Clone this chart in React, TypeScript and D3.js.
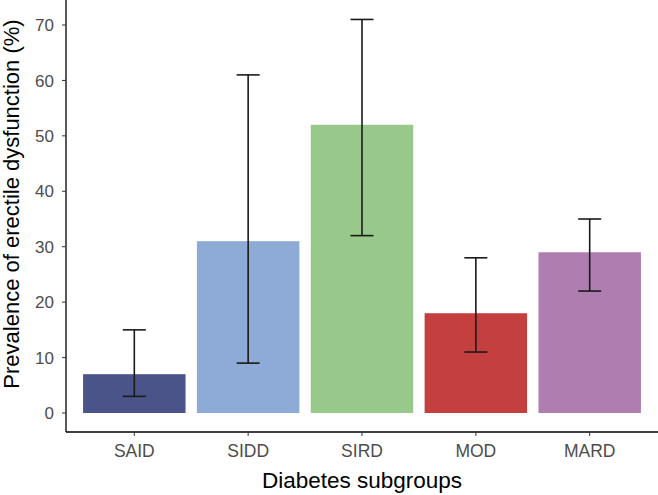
import React from "react";
import * as d3 from "d3";

const categories = ["SAID", "SIDD", "SIRD", "MOD", "MARD"];
const values = [7, 31, 52, 18, 29];
const lower = [3, 9, 32, 11, 22];
const upper = [15, 61, 71, 28, 35];
const colors = ["#4a5488", "#8eaad6", "#98c98a", "#c4403f", "#b07db0"];
const yTicks = [0, 10, 20, 30, 40, 50, 60, 70];

export default function App() {
  const W = 658, H = 495;
  const left = 66, right = 658, bottom = 432;
  const x = d3.scalePoint<string>().domain(categories).range([left, right]).padding(0.6);
  const y = d3.scaleLinear().domain([0, 70]).range([413, 25]);
  const bw = x.step() * 0.9;
  const font = "Liberation Sans, Arial, sans-serif";
  return (
    <svg width={W} height={H} style={{ position: "absolute", left: 0, top: 0 }} fontFamily={font}>
      {categories.map((c, i) => (
        <rect key={c} x={x(c)! - bw / 2} y={y(values[i])} width={bw} height={y(0) - y(values[i])} fill={colors[i]} />
      ))}
      {categories.map((c, i) => {
        const cx = x(c)!;
        return (
          <g key={c + "e"} stroke="#1a1a1a" strokeWidth={1.6}>
            <line x1={cx} x2={cx} y1={y(lower[i])} y2={y(upper[i])} />
            <line x1={cx - 11.5} x2={cx + 11.5} y1={y(lower[i])} y2={y(lower[i])} />
            <line x1={cx - 11.5} x2={cx + 11.5} y1={y(upper[i])} y2={y(upper[i])} />
          </g>
        );
      })}
      <line x1={left} x2={left} y1={0} y2={bottom} stroke="#000" strokeWidth={1.3} />
      <line x1={left} x2={right} y1={bottom} y2={bottom} stroke="#000" strokeWidth={1.3} />
      {yTicks.map((t) => (
        <g key={t}>
          <line x1={left - 4} x2={left} y1={y(t)} y2={y(t)} stroke="#333" strokeWidth={1} />
          <text x={54} y={y(t)} dy="0.36em" textAnchor="end" fontSize={17} fill="#4d4d4d">{t}</text>
        </g>
      ))}
      {categories.map((c) => {
        const cx = x(c)!;
        return (
          <g key={c + "t"}>
            <line x1={cx} x2={cx} y1={bottom} y2={bottom + 4} stroke="#333" strokeWidth={1} />
            <text x={cx} y={457} textAnchor="middle" fontSize={17.5} fill="#4d4d4d">{c}</text>
          </g>
        );
      })}
      <text x={362} y={488} textAnchor="middle" fontSize={22.5} fill="#000">Diabetes subgroups</text>
      <text transform={`translate(19,204) rotate(-90)`} textAnchor="middle" fontSize={22} fill="#000">Prevalence of erectile dysfunction (%)</text>
    </svg>
  );
}
